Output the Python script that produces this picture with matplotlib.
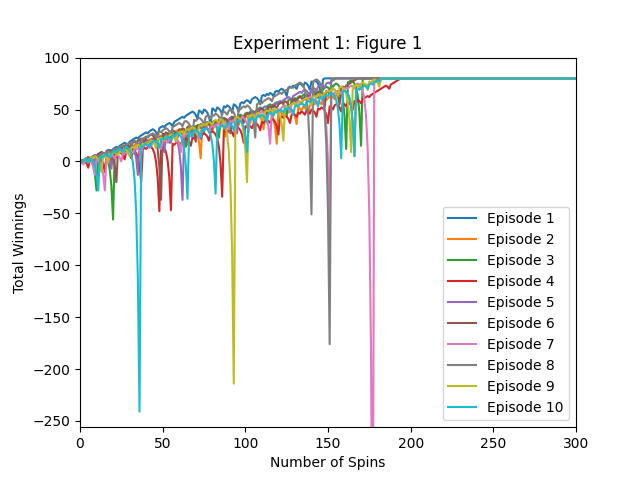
import matplotlib
matplotlib.use("Agg")
import matplotlib.pyplot as plt

# Total winnings after each spin (index = spin number); once an episode reaches
# the target it stays there until the last spin.
N_SPINS = 300
TARGET = 80

episode_1 = [0,1,0,2,3,4,3,1,5,6,5,7,8,9,8,6,2,10,11,10,12,
             13,14,13,15,16,17,18,17,15,19,20,21,22,23,22,24,25,26,27,28,
             27,29,30,31,30,28,24,32,33,34,33,35,36,37,36,34,38,39,40,41,
             42,43,42,44,45,46,47,48,
             47,45,41,49,48,46,50,49,47,43,35,51,50,48,52,51,49,45,53,52,54,53,51,47,55,54,52,48,56,
             57,56,58,59,58,56,60,61,62,61,59,55,63,64,63,65,64,66,
             65,63,67,68,67,69,70,69,67,63,71,72,71,73,72,70,74,75,
             74,72,76,75,73,69,77,76,78,77,75,71,63,79,80]

episode_2 = [0,1,0,2,1,-1,3,4,3,5,6,5,3,-1,7,8,7,5,9,8,10,
             9,7,11,12,11,13,14,13,11,7,15,14,16,17,16,14,18,19,18,20,
             19,21,22,21,19,23,24,25,24,22,18,26,25,27,28,
             27,25,29,30,29,31,30,28,24,16,32,33,34,
             33,31,27,19,3,35,
             34,32,36,35,33,29,37,36,38,39,38,36,32,24,40,39,37,41,42,41,39,35,43,42,40,44,
             43,41,37,45,44,42,46,45,43,39,31,47,46,48,47,45,41,33,17,49,48,46,42,50,49,47,51,50,48,44,36,52,51,49,53,
             52,50,46,54,
             55,54,56,57,58,57,55,59,60,59,61,62,63,62,60,64,65,64,66,67,68,
             67,65,61,53,37,5,69,
             70,71,70,72,73,74,73,75,76,77,76,78,79,80]

episode_3 = [0,1,0,2,1,3,
             2,0,-4,-12,-28,4,
             5,6,7,
             6,4,0,-8,-24,-56,8,
             9,8,10,11,10,8,12,13,14,13,11,7,15,16,15,17,18,19,18,16,20,19,21,22,
             21,19,23,24,23,25,24,22,18,26,27,26,24,28,29,28,26,22,14,30,31,30,32,33,34,
             33,35,34,32,28,36,37,36,34,38,37,35,31,23,39,40,39,41,40,38,42,43,42,40,36,44,45,44,42,46,
             47,46,48,49,48,46,50,51,52,51,49,45,53,54,55,
             54,52,56,57,56,58,57,55,51,43,59,60,59,57,61,60,62,63,
             62,64,65,64,62,66,67,68,67,65,61,69,70,69,71,72,71,69,73,72,74,75,
             74,72,68,60,44,12,76,77,78,77,75,71,63,47,15,79,80]

episode_4 = [0,-1,1,0,-2,-6,2,3,2,0,4,5,4,2,-2,-10,6,5,3,-1,7,
             6,4,8,9,8,6,2,10,9,7,3,11,
             10,8,4,-4,-20,12,
             13,12,14,15,14,12,8,0,-16,-48,16,15,13,9,1,-15,-47,17,
             16,18,19,18,16,20,21,22,21,19,15,23,22,24,25,24,22,26,27,26,24,20,28,29,
             28,26,22,14,-2,-34,30,
             29,27,31,30,28,24,32,33,32,30,26,18,34,
             33,35,34,32,36,37,36,34,30,38,37,39,40,39,37,41,40,38,34,26,42,43,42,44,43,41,37,45,46,45,43,47,46,48,47,45,49,
             48,46,50,49,47,43,51,50,52,51,49,45,37,53,52,50,54,55,54,52,48,56,55,53,57,56,54,50,58,57,59,58,56,60,
             61,62,63,62,64,65,66,67,68,69,70,71,72,73,72,70,74,75,76,77,78,79,80]

episode_5 = [0,-1,1,2,1,-1,3,4,3,1,-3,5,6,5,7,8,7,5,1,-7,9,
             10,11,10,12,13,14,15,16,17,18,
             17,15,11,3,-13,19,
             18,16,20,21,20,18,14,22,21,23,24,23,21,17,9,25,24,22,18,26,
             25,23,19,11,-5,-37,27,
             28,27,29,30,29,27,31,32,33,32,34,35,34,32,28,36,37,
             36,34,38,37,39,40,39,37,33,41,42,41,39,35,27,43,42,40,44,45,
             46,45,47,48,47,45,49,50,51,50,52,53,52,50,46,54,55,54,56,57,
             58,57,59,60,61,62,61,59,63,64,65,66,67,
             66,68,69,68,66,62,70,71,70,68,72,73,
             74,73,71,75,76,75,77,78,79,80]

episode_6 = [0,1,0,2,3,4,3,1,5,6,5,7,8,9,8,6,10,11,
             10,8,4,-4,-20,12,
             13,12,14,15,16,15,13,17,18,19,18,20,21,22,21,19,23,24,25,26,
             25,23,19,11,-5,-37,27,
             26,28,27,25,29,30,29,27,23,31,30,32,31,29,33,34,33,31,27,19,35,34,36,35,33,37,38,37,35,31,39,
             38,36,40,39,41,42,41,39,35,27,43,42,40,36,44,43,41,37,45,
             46,45,47,46,44,48,49,48,50,51,50,48,44,52,53,52,54,53,51,55,56,57,56,58,57,55,51,59,60,59,57,61,62,
             61,59,63,64,63,61,57,65,64,66,67,66,64,60,52,68,67,65,69,70,
             69,67,63,55,71,
             72,71,73,74,75,76,77,78,79,80]

episode_7 = [0,-1,-3,1,0,2,1,-1,-5,-13,3,
             2,0,-4,-12,-28,4,
             3,5,6,5,3,7,6,4,0,8,9,8,10,11,10,8,12,13,12,10,6,14,15,16,
             15,13,17,18,17,19,18,16,12,20,21,20,18,22,21,23,24,23,21,17,9,25,24,26,27,26,24,28,29,28,26,22,30,29,31,32,31,29,33,34,
             33,35,36,35,33,37,38,37,35,31,39,38,40,41,42,41,39,43,42,40,36,28,44,45,44,46,45,43,47,48,
             47,45,41,33,17,49,
             50,49,51,50,48,52,53,54,53,51,47,55,56,55,57,58,57,55,59,60,59,61,62,61,59,55,63,64,
             63,61,57,49,33,1,-63,65,
             66,65,67,68,67,65,69,70,71,70,72,73,72,70,74,75,
             74,72,68,60,44,12,-52,-180,-436,76,
             77,76,78,79,80]

episode_8 = [0,1,0,2,3,2,0,4,5,6,5,3,-1,7,8,7,9,10,9,7,11,
             12,11,13,14,15,14,12,16,17,18,17,19,20,19,17,13,21,22,23,24,
             23,25,26,27,26,24,28,29,28,30,31,32,31,29,25,33,34,35,36,37,
             36,34,38,39,38,36,32,24,40,39,41,42,41,39,35,43,44,43,41,45,
             44,46,45,43,39,47,48,47,45,49,50,49,47,43,35,51,50,52,53,52,54,
             53,51,47,39,23,55,
             56,57,56,58,59,60,61,60,58,62,63,64,65,66,65,67,68,69,70,71,72,71,73,74,75,76,
             75,73,69,61,45,13,-51,77,78,79,78,76,72,64,48,16,-48,-176,80]

episode_9 = [0,-1,1,2,1,-1,3,4,3,5,4,2,-2,-10,6,5,3,-1,7,6,8,
             9,8,6,10,9,11,12,11,9,5,13,14,13,15,16,15,13,17,16,18,
             17,19,20,19,17,13,21,22,23,22,20,24,23,25,26,25,23,19,27,28,
             29,28,26,30,31,30,32,33,32,30,26,34,35,34,36,
             35,37,38,37,35,39,40,39,37,41,
             40,38,34,26,10,-22,-86,-214,42,
             43,
             42,40,36,28,12,-20,44,
             43,45,44,42,46,47,46,44,40,48,49,48,50,49,47,51,
             50,48,44,36,20,52,
             53,52,54,55,56,55,53,57,58,57,59,60,61,60,58,54,62,63,62,64,65,64,62,66,67,68,67,69,70,69,67,63,71,72,
             71,69,65,57,41,9,73,
             72,74,73,71,75,76,75,73,69,77,76,78,79,78,76,72,80]

episode_10 = [0,-1,1,2,1,-1,3,
              2,0,-4,-12,-28,4,
              5,4,6,7,6,4,8,9,10,9,11,12,11,9,13,14,
              13,11,7,-1,-17,-49,-113,-241,15,
              14,16,17,16,14,18,19,20,19,17,13,21,22,21,23,24,23,21,25,24,26,27,
              26,24,20,12,-4,-36,28,
              27,25,29,30,29,27,23,31,30,32,
              31,29,25,17,1,-31,33,
              32,34,35,34,32,36,37,36,34,30,38,39,40,
              39,37,33,25,9,41,
              40,42,41,39,43,44,43,45,44,42,38,46,47,46,44,48,47,49,50,49,47,51,50,52,51,49,45,53,54,53,55,
              56,55,53,57,58,57,59,60,59,57,53,61,62,61,63,64,63,65,66,
              65,63,59,51,35,3,67,68,
              67,65,61,53,37,5,69,
              70,69,71,72,73,72,70,74,75,74,76,77,78,77,79,80]

episodes = [episode_1, episode_2, episode_3, episode_4, episode_5,
            episode_6, episode_7, episode_8, episode_9, episode_10]
labels = [f"Episode {i}" for i in range(1, 11)]

fig, ax = plt.subplots(figsize=(6.4, 4.8), dpi=100)
for ep, lab in zip(episodes, labels):
    vals = ep + [TARGET] * (N_SPINS + 1 - len(ep))
    ax.plot(range(len(vals)), vals, label=lab)

ax.set_xlim(0, 300)
ax.set_ylim(-256, 100)
ax.set_title("Experiment 1: Figure 1")
ax.set_xlabel("Number of Spins")
ax.set_ylabel("Total Winnings")
ax.legend(loc="lower right")
fig.savefig("out.png", dpi=100)
